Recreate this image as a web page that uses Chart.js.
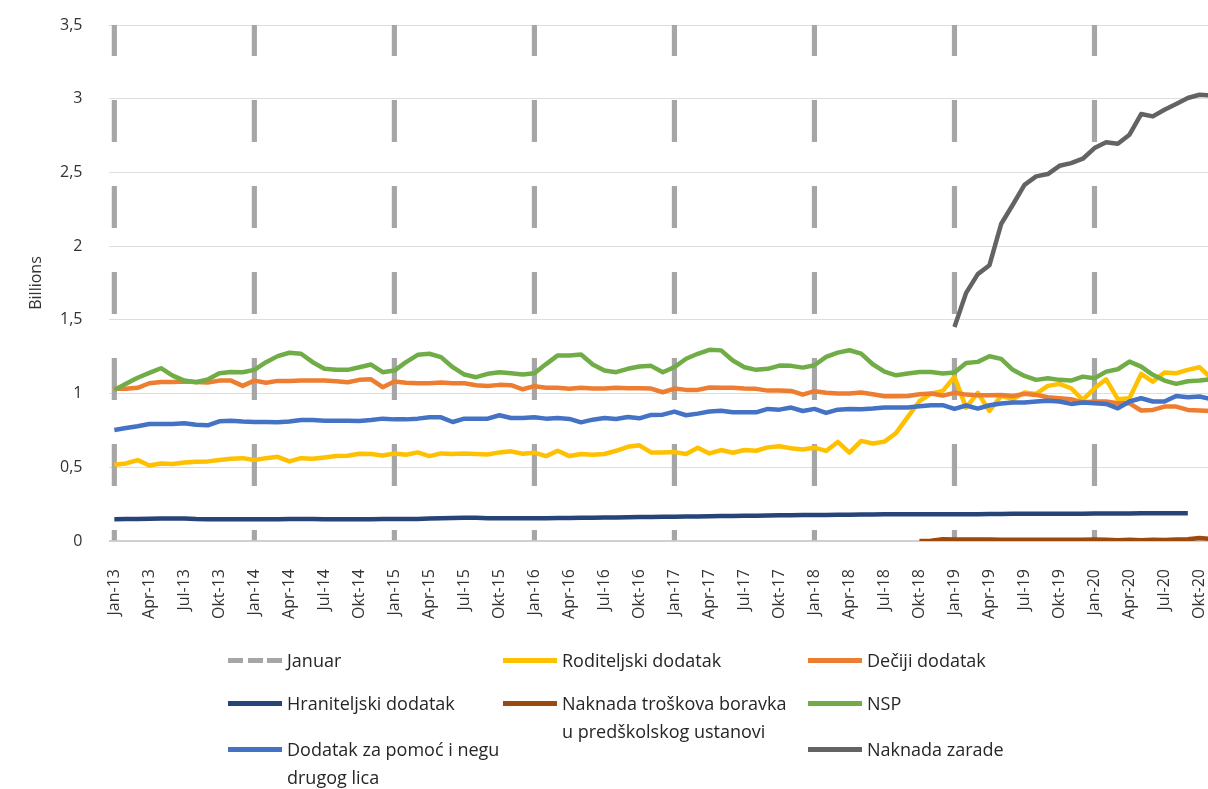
<!DOCTYPE html>
<html>
<head>
<meta charset="utf-8">
<script src="https://cdn.jsdelivr.net/npm/chart.js@4"></script>
<style>
  html, body { margin: 0; padding: 0; overflow: hidden; background: #fff; width: 1208px; height: 789px; }
  #wrap { position: absolute; left: 0; top: 0; width: 1217px; height: 789px; }
  #legend { position: absolute; left: 0; top: 0; width: 1208px; height: 789px; pointer-events: none;
            font-family: 'Open Sans', sans-serif; font-size: 18px; color: #262626; }
  .item { position: absolute; display: flex; align-items: flex-start; }
  .sw { width: 54px; height: 5px; margin-top: 12px; margin-right: 5px; flex: none; }
  .txt { line-height: 28px; white-space: nowrap; }
</style>
</head>
<body>
<div id="wrap"><canvas id="c"></canvas></div>
<div id="legend"></div>
<script>
// Monthly categories, Jan 2013 – Nov 2020
const categories = [
  'Jan-13','Feb-13','Mar-13','Apr-13','Maj-13','Jun-13','Jul-13','Avg-13','Sep-13','Okt-13','Nov-13','Dec-13',
  'Jan-14','Feb-14','Mar-14','Apr-14','Maj-14','Jun-14','Jul-14','Avg-14','Sep-14','Okt-14','Nov-14','Dec-14',
  'Jan-15','Feb-15','Mar-15','Apr-15','Maj-15','Jun-15','Jul-15','Avg-15','Sep-15','Okt-15','Nov-15','Dec-15',
  'Jan-16','Feb-16','Mar-16','Apr-16','Maj-16','Jun-16','Jul-16','Avg-16','Sep-16','Okt-16','Nov-16','Dec-16',
  'Jan-17','Feb-17','Mar-17','Apr-17','Maj-17','Jun-17','Jul-17','Avg-17','Sep-17','Okt-17','Nov-17','Dec-17',
  'Jan-18','Feb-18','Mar-18','Apr-18','Maj-18','Jun-18','Jul-18','Avg-18','Sep-18','Okt-18','Nov-18','Dec-18',
  'Jan-19','Feb-19','Mar-19','Apr-19','Maj-19','Jun-19','Jul-19','Avg-19','Sep-19','Okt-19','Nov-19','Dec-19',
  'Jan-20','Feb-20','Mar-20','Apr-20','Maj-20','Jun-20','Jul-20','Avg-20','Sep-20','Okt-20','Nov-20'
];

// Quarterly tick labels shown under the axis
const tickLabels = [
  'Jan-13','Apr-13','Jul-13','Okt-13','Jan-14','Apr-14','Jul-14','Okt-14','Jan-15','Apr-15','Jul-15','Okt-15',
  'Jan-16','Apr-16','Jul-16','Okt-16','Jan-17','Apr-17','Jul-17','Okt-17','Jan-18','Apr-18','Jul-18','Okt-18',
  'Jan-19','Apr-19','Jul-19','Okt-19','Jan-20','Apr-20','Jul-20','Okt-20'
];

// January markers (full height of the value axis)
const januaryMonths = ['Jan-13','Jan-14','Jan-15','Jan-16','Jan-17','Jan-18','Jan-19','Jan-20'];
const januaryTop = 3.5;

// Series, billions of dinars per month
const roditeljski = [
  0.517,0.526,0.549,0.512,0.526,0.522,0.533,0.537,0.540,0.549,0.558,0.562,
  0.549,0.562,0.571,0.540,0.562,0.558,0.567,0.576,0.578,0.592,0.590,0.580,
  0.594,0.585,0.601,0.576,0.594,0.590,0.594,0.590,0.587,0.601,0.608,0.592,
  0.599,0.576,0.612,0.576,0.590,0.585,0.590,0.612,0.639,0.649,0.601,0.601,
  0.603,0.590,0.633,0.594,0.617,0.599,0.617,0.612,0.635,0.643,0.629,0.620,
  0.633,0.611,0.672,0.599,0.679,0.661,0.674,0.733,0.842,0.948,1.000,1.018,
  1.113,0.905,1.005,0.882,0.985,0.962,1.007,0.998,1.052,1.066,1.036,0.957,
  1.036,1.097,0.962,0.968,1.133,1.081,1.143,1.138,1.161,1.179,1.104
];

const deciji = [
  1.032,1.032,1.039,1.070,1.079,1.079,1.082,1.079,1.075,1.088,1.088,1.052,
  1.088,1.073,1.086,1.086,1.088,1.088,1.088,1.084,1.077,1.093,1.097,1.043,
  1.082,1.073,1.070,1.070,1.075,1.070,1.070,1.057,1.052,1.059,1.057,1.029,
  1.050,1.039,1.039,1.032,1.039,1.034,1.034,1.039,1.036,1.036,1.034,1.009,
  1.034,1.025,1.025,1.041,1.039,1.039,1.034,1.032,1.020,1.020,1.018,0.993,
  1.016,1.005,1.000,1.000,1.007,0.995,0.982,0.982,0.984,0.995,1.000,0.986,
  1.005,0.993,0.989,0.989,0.991,0.984,0.998,0.991,0.975,0.968,0.962,0.939,
  0.946,0.946,0.934,0.934,0.885,0.889,0.912,0.912,0.889,0.885,0.882
];

const hraniteljski = [
  0.148,0.149,0.150,0.151,0.152,0.153,0.153,0.149,0.147,0.147,0.147,0.147,
  0.147,0.147,0.148,0.149,0.149,0.149,0.148,0.148,0.148,0.148,0.148,0.149,
  0.149,0.150,0.150,0.152,0.154,0.156,0.157,0.157,0.155,0.154,0.154,0.154,
  0.155,0.155,0.156,0.156,0.157,0.158,0.159,0.160,0.161,0.162,0.163,0.164,
  0.165,0.166,0.167,0.168,0.169,0.170,0.171,0.172,0.173,0.174,0.175,0.176,
  0.177,0.177,0.178,0.178,0.179,0.180,0.181,0.181,0.181,0.181,0.181,0.181,
  0.181,0.182,0.182,0.183,0.183,0.184,0.184,0.184,0.184,0.185,0.185,0.185,
  0.186,0.186,0.187,0.187,0.188,0.188,0.188,0.188,0.188,null,null
];

const naknadaBoravka = Array(69).fill(null).concat([
  0.000,0.002,0.012,
  0.010,0.010,0.010,0.010,0.009,0.009,0.009,0.008,0.008,0.008,0.008,0.009,
  0.010,0.009,0.005,0.008,0.005,0.008,0.007,0.010,0.012,0.020,0.014
]);

const nsp = [
  1.025,1.066,1.107,1.140,1.172,1.122,1.088,1.077,1.095,1.138,1.147,1.145,
  1.161,1.213,1.254,1.277,1.270,1.213,1.168,1.161,1.161,1.179,1.197,1.145,
  1.156,1.213,1.263,1.270,1.247,1.179,1.129,1.111,1.134,1.145,1.138,1.129,
  1.138,1.200,1.259,1.259,1.265,1.197,1.156,1.145,1.168,1.184,1.188,1.145,
  1.179,1.236,1.270,1.297,1.293,1.224,1.179,1.161,1.168,1.190,1.188,1.176,
  1.192,1.249,1.278,1.294,1.271,1.199,1.149,1.124,1.136,1.147,1.147,1.136,
  1.143,1.208,1.215,1.253,1.235,1.161,1.120,1.093,1.104,1.093,1.088,1.115,
  1.104,1.149,1.165,1.217,1.183,1.127,1.088,1.066,1.084,1.088,1.097
];

const dodatakNega = [
  0.753,0.766,0.778,0.794,0.794,0.794,0.798,0.789,0.785,0.812,0.816,0.810,
  0.807,0.807,0.805,0.810,0.821,0.821,0.816,0.816,0.816,0.814,0.821,0.830,
  0.825,0.825,0.830,0.839,0.839,0.807,0.830,0.830,0.830,0.853,0.834,0.834,
  0.839,0.830,0.834,0.828,0.805,0.823,0.834,0.828,0.841,0.832,0.855,0.857,
  0.878,0.853,0.864,0.878,0.884,0.873,0.873,0.873,0.896,0.891,0.905,0.882,
  0.896,0.869,0.891,0.896,0.894,0.898,0.905,0.905,0.905,0.914,0.921,0.921,
  0.896,0.919,0.898,0.921,0.933,0.939,0.939,0.946,0.952,0.946,0.930,0.939,
  0.934,0.930,0.900,0.946,0.968,0.946,0.946,0.984,0.975,0.980,0.962
];

const naknadaZarade = Array(72).fill(null).concat([
  1.452,1.683,1.810,1.871,2.150,2.281,2.416,2.473,2.489,2.545,2.563,2.593,
  2.665,2.704,2.695,2.756,2.896,2.880,2.925,2.964,3.005,3.027,3.022
]);

// Legend grid slot (column, row) for each dataset, in dataset order
const legendSlots = [[0,0],[1,0],[2,0],[0,1],[1,1],[2,1],[0,2],[2,2]];
const legendColX = [228, 503, 808];
const legendRowY = [660, 703, 749];

const FONT = "'Open Sans', sans-serif";
const AXIS_TEXT = '#333333';
const JAN_GRAY = '#a6a6a6';

// Vertical dash pattern for the January markers (42 px dash, 44 px gap)
function dashPattern() {
  const p = document.createElement('canvas');
  p.width = 1; p.height = 86;
  const g = p.getContext('2d');
  g.fillStyle = JAN_GRAY;
  g.fillRect(0, 14, 1, 42);
  return document.getElementById('c').getContext('2d').createPattern(p, 'repeat');
}

function lineSet(label, data, color, idx) {
  return {
    type: 'line', label, data, borderColor: color, backgroundColor: color,
    borderWidth: 4.5, pointRadius: 0, pointHoverRadius: 0, tension: 0,
    borderJoinStyle: 'round', borderCapStyle: 'butt', spanGaps: false, fill: false,
    order: -idx
  };
}

const datasets = [
  {
    type: 'bar', label: 'Januar',
    data: januaryMonths.map(m => ({ x: m, y: januaryTop })),
    backgroundColor: dashPattern(), borderWidth: 0, barThickness: 4.5,
    borderColor: JAN_GRAY, dashed: true, order: 0
  },
  lineSet('Roditeljski dodatak', roditeljski, '#ffc000', 1),
  lineSet('Dečiji dodatak', deciji, '#ed7d31', 2),
  lineSet('Hraniteljski dodatak', hraniteljski, '#264478', 3),
  lineSet(['Naknada troškova boravka', 'u predškolskog ustanovi'], naknadaBoravka, '#9e480e', 4),
  lineSet('NSP', nsp, '#70ad47', 5),
  lineSet(['Dodatak za pomoć i negu', 'drugog lica'], dodatakNega, '#4472c4', 6),
  lineSet('Naknada zarade', naknadaZarade, '#636363', 7)
];

const chart = new Chart(document.getElementById('c'), {
  data: { labels: categories, datasets },
  options: {
    responsive: true, maintainAspectRatio: false, animation: false,
    layout: { padding: { top: 25, left: 0, right: 0, bottom: 0 } },
    plugins: { legend: { display: false }, tooltip: { enabled: false } },
    scales: {
      x: {
        type: 'category', offset: true,
        grid: { display: false }, border: { display: false },
        ticks: {
          autoSkip: false, minRotation: 90, maxRotation: 90, padding: 20,
          color: AXIS_TEXT, font: { family: FONT, size: 16 },
          callback: function (v) {
            const l = this.getLabelForValue(v);
            return tickLabels.includes(l) ? l : '';
          }
        },
        afterFit: s => { s.height = 248; s.paddingLeft = 0; s.paddingRight = 0; }
      },
      y: {
        min: 0, max: 3.5,
        border: { display: false },
        grid: {
          drawTicks: false,
          color: c => c.tick && c.tick.value === 0 ? '#d0d0d0' : '#dedede',
          lineWidth: c => c.tick && c.tick.value === 0 ? 2 : 1
        },
        ticks: {
          stepSize: 0.5, padding: 26, color: AXIS_TEXT, font: { family: FONT, size: 16 },
          callback: v => String(v).replace('.', ',')
        },
        title: {
          display: true, text: 'Billions', color: AXIS_TEXT,
          font: { family: FONT, size: 16 }, padding: { top: 27, bottom: 0 }
        },
        afterFit: s => { s.width = 108.5; s.paddingTop = 0; s.paddingBottom = 0; }
      }
    }
  }
});

// HTML legend built from the chart's datasets
const legendEl = document.getElementById('legend');
chart.data.datasets.forEach((ds, i) => {
  const [col, row] = legendSlots[i];
  const item = document.createElement('div');
  item.className = 'item';
  item.style.left = legendColX[col] + 'px';
  item.style.top = (legendRowY[row] - 14) + 'px';
  const sw = document.createElement('div');
  sw.className = 'sw';
  sw.style.background = ds.dashed
    ? `repeating-linear-gradient(90deg, ${ds.borderColor} 0 15px, transparent 15px 19.5px)`
    : ds.borderColor;
  const txt = document.createElement('div');
  txt.className = 'txt';
  const lines = Array.isArray(ds.label) ? ds.label : [ds.label];
  lines.forEach((t, k) => {
    if (k) txt.appendChild(document.createElement('br'));
    txt.appendChild(document.createTextNode(t));
  });
  item.appendChild(sw);
  item.appendChild(txt);
  legendEl.appendChild(item);
});
</script>
</body>
</html>
